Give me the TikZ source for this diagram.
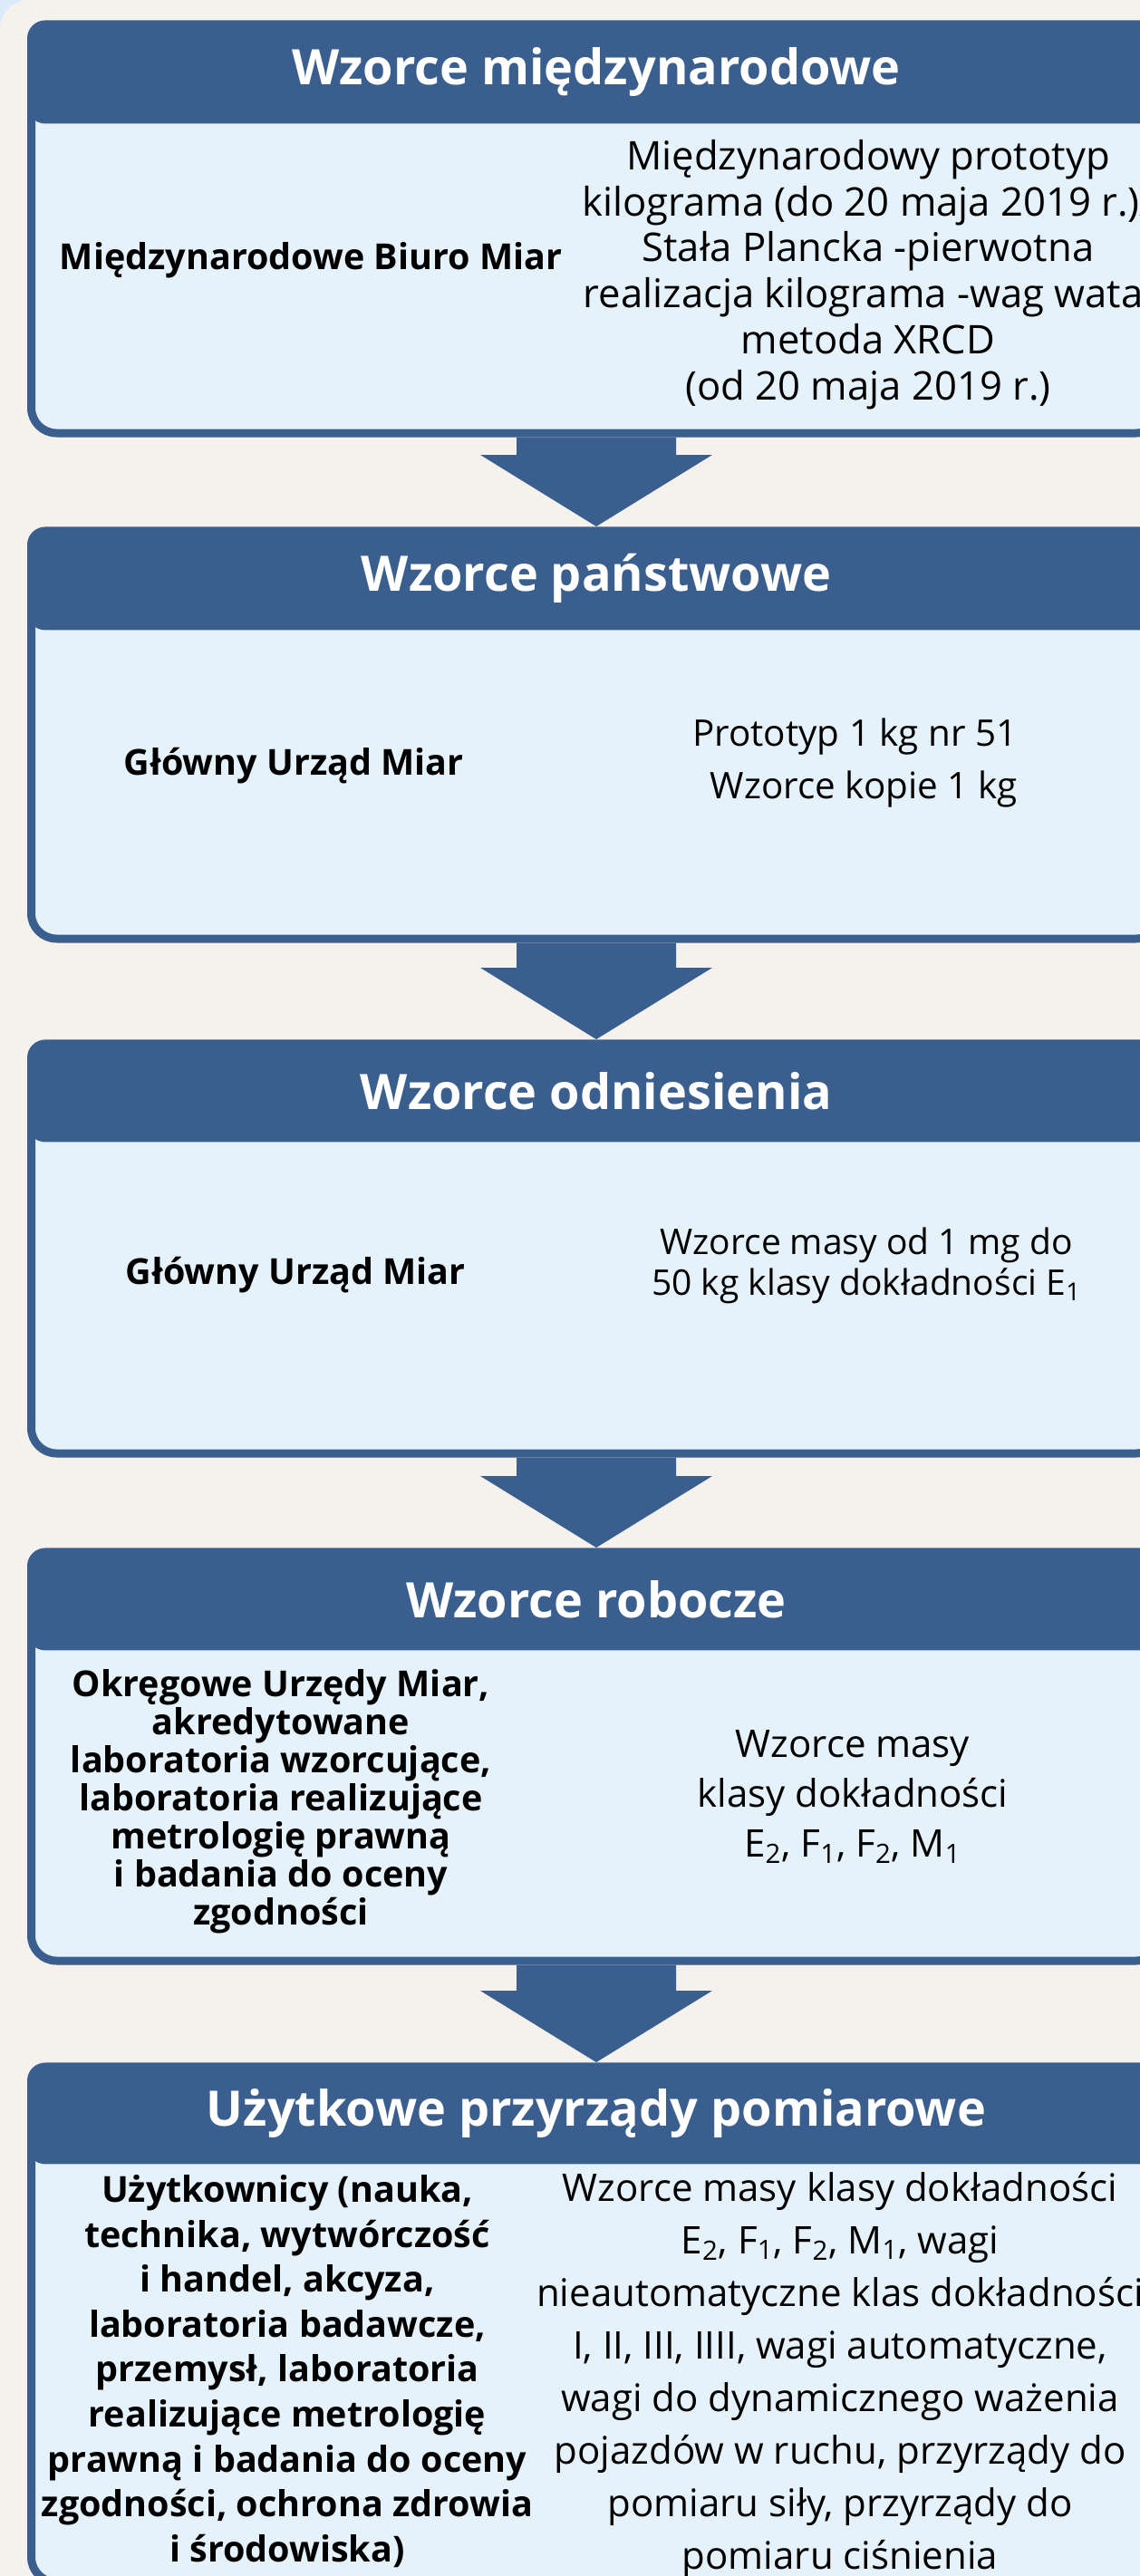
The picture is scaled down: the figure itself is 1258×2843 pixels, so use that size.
\documentclass[tikz,border=0pt]{standalone}
\usepackage{fontspec}
\setmainfont{Open Sans}
\usetikzlibrary{calc}
\definecolor{dkblue}{RGB}{58,94,142}
\definecolor{ltblue}{RGB}{230,242,251}
\definecolor{cream}{RGB}{245,241,237}
\definecolor{cornerblue}{RGB}{221,234,249}

\begin{document}
\begin{tikzpicture}[x=0.5pt, y=-0.5pt,
  hdr/.style={fill=dkblue, rounded corners=10pt, minimum width=628pt, inner sep=0pt, anchor=north,
    text=white, font=\bfseries\fontsize{27pt}{30pt}\selectfont},
  body/.style={draw=dkblue, line width=4.5pt, fill=ltblue, rounded corners=14pt, minimum width=623.5pt,
    inner sep=0pt, anchor=north},
  who/.style={align=center, inner sep=0pt, font=\bfseries\fontsize{19.75pt}{23pt}\selectfont},
  what/.style={align=center, inner sep=0pt, font=\fontsize{21pt}{28.5pt}\selectfont}]
\useasboundingbox (0,0) rectangle (1258,2843);
\clip (0,0) rectangle (1258,2843);
% background
\fill[cornerblue] (0,0) rectangle (1258,2843);
\fill[cream, rounded corners=16pt] (0,0) rectangle (1320,2900);

% boxes
\node[body, minimum height=223.5pt] (b1) at (658,26.5) {};
\node[body, minimum height=223pt] (b2) at (658,585.5) {};
\node[body, minimum height=224pt] (b3) at (658,1151.5) {};
\node[body, minimum height=223.5pt] (b4) at (658,1712.5) {};
\node[body, minimum height=282.5pt] (b5) at (658,2280.5) {};

\node[hdr, minimum height=57pt] (h1) at (658,22) {Wzorce międzynarodowe};
\node[hdr, minimum height=57pt] (h2) at (658,581) {Wzorce państwowe};
\node[hdr, minimum height=56.5pt] (h3) at (658,1147) {Wzorce odniesienia};
\node[hdr, minimum height=56.5pt] (h4) at (658,1708) {Wzorce robocze};
\node[hdr, minimum height=56pt] (h5) at (658,2276) {Użytkowe przyrządy pomiarowe};

% arrows
\foreach \a/\b in {1/2,2/3,3/4,4/5}
  \fill[dkblue] ($(b\a.south)+(-88,0)$) -- ($(h\b.north)+(-88,-79)$) -- ($(h\b.north)+(-128,-79)$)
    -- (h\b.north) -- ($(h\b.north)+(128,-79)$) -- ($(h\b.north)+(88,-79)$) -- ($(b\a.south)+(88,0)$) -- cycle;

% texts
\node[who] (l1) at (343,287) {Międzynarodowe Biuro Miar};
\node[what, font=\fontsize{21.8pt}{25.4pt}\selectfont] (r1) at (958,303) {Międzynarodowy prototyp\\
  kilograma (do 20 maja 2019 r.)/\\ Stała Plancka -pierwotna\\ realizacja kilograma -wag wata,\\
  metoda XRCD\\ (od 20 maja 2019 r.)};

\node[who] (l2) at (324,845) {Główny Urząd Miar};
\node[what, align=right, anchor=east, font=\fontsize{20.2pt}{29pt}\selectfont] (r2) at (1123,842)
  {Prototyp 1 kg nr 51\\ Wzorce kopie 1 kg};

\node[who] (l3) at (326,1407) {Główny Urząd Miar};
\node[what, font=\fontsize{19.5pt}{22.5pt}\selectfont] (r3) at (956,1397)
  {Wzorce masy od 1 mg do\\ 50 kg klasy dokładności E\textsubscript{1}};

\node[who, font=\bfseries\fontsize{19.75pt}{21pt}\selectfont] (l4) at (310,1988) {Okręgowe Urzędy Miar,\\
  akredytowane\\ laboratoria wzorcujące,\\ laboratoria realizujące\\ metrologię prawną\\
  i badania do oceny\\ zgodności};
\node[what, font=\fontsize{21pt}{27.5pt}\selectfont] (r4) at (941,1983) {Wzorce masy\\ klasy dokładności\\
  E\textsubscript{2}, F\textsubscript{1}, F\textsubscript{2}, M\textsubscript{1}};

\node[who, font=\bfseries\fontsize{19.75pt}{24.8pt}\selectfont] (l5) at (317,2617) {Użytkownicy (nauka,\\
  technika, wytwórczość\\ i handel, akcyza,\\ laboratoria badawcze,\\ przemysł, laboratoria\\
  realizujące metrologię\\ prawną i badania do oceny\\ zgodności, ochrona zdrowia\\ i środowiska)};
\node[what, font=\fontsize{21pt}{29pt}\selectfont] (r5) at (927,2621) {Wzorce masy klasy dokładności\\
  E\textsubscript{2}, F\textsubscript{1}, F\textsubscript{2}, M\textsubscript{1}, wagi\\
  nieautomatyczne klas dokładności\\ I, II, III, IIII, wagi automatyczne,\\ wagi do dynamicznego ważenia\\
  pojazdów w ruchu, przyrządy do\\ pomiaru siły, przyrządy do\\ pomiaru ciśnienia};
\end{tikzpicture}
\end{document}
